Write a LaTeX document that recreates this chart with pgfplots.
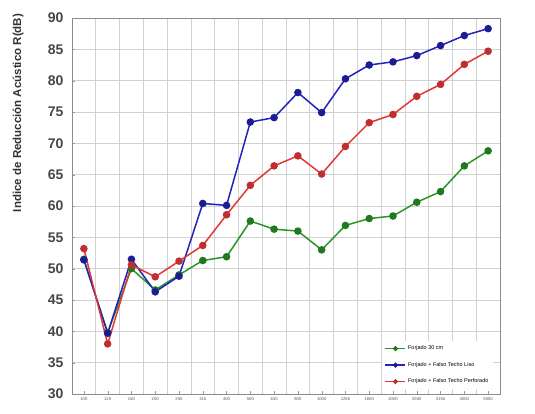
\documentclass[border=0pt]{standalone}
\usepackage{pgfplots}
\pgfplotsset{compat=1.18}
\usepackage{fontspec}
\setmainfont{Liberation Sans}
\definecolor{cg}{RGB}{40,150,40}
\definecolor{cb}{RGB}{35,35,185}
\definecolor{cr}{RGB}{225,55,55}
\begin{document}
\begin{tikzpicture}[x=1pt,y=1pt]
\begin{axis}[
  at={(72pt,20pt)}, anchor=south west,
  scale only axis, width=428pt, height=376pt,
  xmin=-0.5, xmax=17.5, ymin=30, ymax=90,
  xtick={0,...,17},
  xticklabels={100,125,160,200,250,315,400,500,630,800,1000,1250,1600,2000,2500,3150,4000,5000},
  minor xtick={-0.5,0.5,...,17.5},
  ytick={30,35,...,90},
  xminorgrids, ymajorgrids,
  minor grid style={black!18, line width=0.6pt},
  major grid style={black!18, line width=0.6pt},
  axis line style={black!45},
  major tick length=3pt, minor tick length=0pt,
  tick style={black!40},
  xtick pos=bottom, ytick pos=left,
  /pgf/number format/assume math mode=true,
  yticklabel style={font=\bfseries\fontsize{14}{15}\selectfont, text=black!72, xshift=-5pt},
  xticklabel style={font=\fontsize{4.2}{5}\selectfont, text=black!65},
  legend style={at={(rel axis cs:0.985,0.012)}, anchor=south east, draw=none, fill=white,
    font=\fontsize{5.5}{6}\selectfont, row sep=7pt, inner sep=3pt},
  legend cell align=left,
  legend image code/.code={
    \draw[line width=1.3pt, mark repeat=2, mark phase=2, mark size=1.8pt] plot coordinates {(0pt,0pt) (10pt,0pt) (20pt,0pt)};},
  every axis plot/.append style={line width=1.5pt, mark=*, mark size=3pt},
]
\addplot[cg, mark options={fill=cg!80!black, draw=cg!80!black}] coordinates {
(0,51.5)(1,39.8)(2,50.0)(3,46.6)(4,49.0)(5,51.3)(6,51.9)(7,57.6)(8,56.3)(9,56.0)
(10,53.0)(11,56.9)(12,58.0)(13,58.4)(14,60.6)(15,62.3)(16,66.4)(17,68.8)};
\addlegendentry{Forjado 30 cm}
\addplot[cb, mark options={fill=cb!80!black, draw=cb!80!black}] coordinates {
(0,51.4)(1,39.7)(2,51.5)(3,46.3)(4,48.8)(5,60.4)(6,60.1)(7,73.4)(8,74.1)(9,78.1)
(10,74.9)(11,80.3)(12,82.5)(13,83.0)(14,84.0)(15,85.6)(16,87.2)(17,88.3)};
\addlegendentry{Forjado + Falso Techo Liso}
\addplot[cr, mark options={fill=cr!85!black, draw=cr!85!black}] coordinates {
(0,53.2)(1,38.0)(2,50.6)(3,48.7)(4,51.2)(5,53.7)(6,58.6)(7,63.3)(8,66.4)(9,68.0)
(10,65.1)(11,69.5)(12,73.3)(13,74.6)(14,77.5)(15,79.4)(16,82.6)(17,84.7)};
\addlegendentry{Forjado + Falso Techo Perforado}
\node[anchor=west, font=\bfseries\fontsize{7}{8}\selectfont, text=black!80] at (rel axis cs:1,0) [xshift=6pt, yshift=-6pt] {f(Hz)};
\end{axis}
\node[rotate=90, font=\bfseries\fontsize{11.5}{12}\selectfont, text=black!80] at (18,301) {Indice de Reducción Acústico R(dB)};
\pgfresetboundingbox
\path (0,0) rectangle (535,414);
\end{tikzpicture}
\end{document}
